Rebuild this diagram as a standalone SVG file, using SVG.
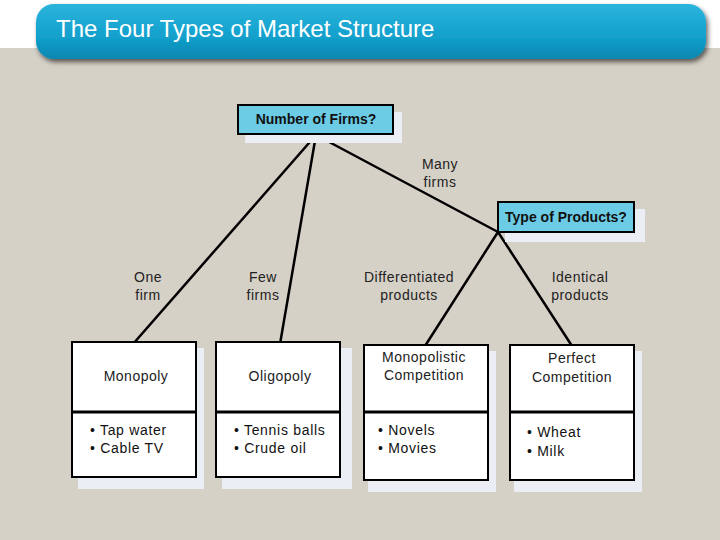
<svg xmlns="http://www.w3.org/2000/svg" width="720" height="540" viewBox="0 0 720 540">
<defs>
<linearGradient id="tg" x1="0" y1="0" x2="0" y2="1">
<stop offset="0" stop-color="#2bb4dc"/>
<stop offset="0.6" stop-color="#12a0cc"/>
<stop offset="1" stop-color="#0b86b0"/>
</linearGradient>
<filter id="sh" x="-5%" y="-20%" width="110%" height="160%">
<feGaussianBlur in="SourceAlpha" stdDeviation="2.5"/>
<feOffset dx="2" dy="3" result="b"/>
<feFlood flood-color="#000" flood-opacity="0.6"/>
<feComposite in2="b" operator="in"/>
<feMerge><feMergeNode/><feMergeNode in="SourceGraphic"/></feMerge>
</filter>
</defs>
<style>
text{font-family:"Liberation Sans",Arial,sans-serif;}
.lbl{font-size:14px;fill:#222;text-anchor:middle;letter-spacing:0.5px;}
.bt{font-size:14px;fill:#111;letter-spacing:0.7px;}
.q{font-size:14px;font-weight:bold;fill:#111;text-anchor:middle;}
.box{fill:#fff;stroke:#000;stroke-width:2;}
.qbox{fill:#6ccce6;stroke:#000;stroke-width:2;}
.shd{fill:#eceef6;}
.ln{stroke:#000;stroke-width:2.5;fill:none;}
</style>
<rect width="720" height="540" fill="#d6d1c7"/>
<rect width="720" height="48" fill="#ffffff"/>
<g id="title">
<rect x="36" y="4" width="670" height="55" rx="18" fill="url(#tg)" filter="url(#sh)"/>
<text x="56" y="37" font-size="24" fill="#ffffff">The Four Types of Market Structure</text>
</g>
<g id="connectors">
<line class="ln" x1="316" y1="135" x2="133" y2="344"/>
<line class="ln" x1="316" y1="135" x2="280" y2="344"/>
<line class="ln" x1="316" y1="135" x2="498" y2="232"/>
<line class="ln" x1="498" y1="232" x2="425" y2="346"/>
<line class="ln" x1="498" y1="232" x2="572" y2="346"/>
</g>
<g id="edge-labels">
<text class="lbl" x="440" y="169">Many</text>
<text class="lbl" x="440" y="187">firms</text>
<text class="lbl" x="148" y="282">One</text>
<text class="lbl" x="148" y="300">firm</text>
<text class="lbl" x="263" y="282">Few</text>
<text class="lbl" x="263" y="300">firms</text>
<text class="lbl" x="409" y="282">Differentiated</text>
<text class="lbl" x="409" y="300">products</text>
<text class="lbl" x="580" y="282">Identical</text>
<text class="lbl" x="580" y="300">products</text>
</g>
<g id="number-of-firms">
<rect class="shd" x="245" y="112" width="157" height="31"/>
<rect class="qbox" x="238" y="105" width="155" height="29"/>
<text class="q" x="316" y="124">Number of Firms?</text>
</g>
<g id="type-of-products">
<rect class="shd" x="505" y="209" width="140" height="33"/>
<rect class="qbox" x="498" y="202" width="136" height="30"/>
<text class="q" x="566" y="222">Type of Products?</text>
</g>
<g id="monopoly">
<rect class="shd" x="78" y="348" width="126" height="141"/>
<rect class="box" x="72" y="342" width="124" height="135"/>
<line x1="72" y1="412" x2="196" y2="412" stroke="#000" stroke-width="3"/>
<text class="lbl" x="136" y="381">Monopoly</text>
<text class="bt" x="90" y="435">• Tap water</text>
<text class="bt" x="90" y="453">• Cable TV</text>
</g>
<g id="oligopoly">
<rect class="shd" x="222" y="348" width="130" height="141"/>
<rect class="box" x="216" y="342" width="124" height="135"/>
<line x1="216" y1="412" x2="341" y2="412" stroke="#000" stroke-width="3"/>
<text class="lbl" x="280" y="381">Oligopoly</text>
<text class="bt" x="234" y="435">• Tennis balls</text>
<text class="bt" x="234" y="453">• Crude oil</text>
</g>
<g id="monopolistic-competition">
<rect class="shd" x="368" y="351" width="128" height="141"/>
<rect class="box" x="364" y="345" width="124" height="135"/>
<line x1="364" y1="412" x2="488" y2="412" stroke="#000" stroke-width="3"/>
<text class="lbl" x="424" y="362">Monopolistic</text>
<text class="lbl" x="424" y="380">Competition</text>
<text class="bt" x="378" y="435">• Novels</text>
<text class="bt" x="378" y="453">• Movies</text>
</g>
<g id="perfect-competition">
<rect class="shd" x="514" y="351" width="128" height="141"/>
<rect class="box" x="510" y="345" width="124" height="135"/>
<line x1="510" y1="412" x2="634" y2="412" stroke="#000" stroke-width="3"/>
<text class="lbl" x="572" y="363">Perfect</text>
<text class="lbl" x="572" y="382">Competition</text>
<text class="bt" x="527" y="437">• Wheat</text>
<text class="bt" x="527" y="456">• Milk</text>
</g>
</svg>
